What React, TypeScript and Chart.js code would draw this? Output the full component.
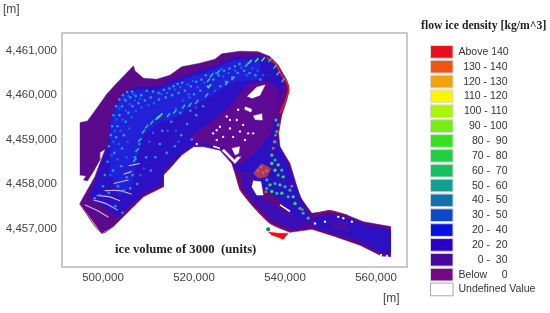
import React, { useEffect, useRef } from "react";
import { Chart, registerables } from "chart.js";

Chart.register(...registerables);

type P = [number, number];
// all map coordinates: easting / northing in km
const boundary: P[] = [[494.9,4459.38],[496.6,4459.42],[498.6,4459.7],[500.8,4460.02],[503,4460.27],[506.7,4460.66],[507,4460.55],[508.9,4460.38],[511.8,4460.36],[514.7,4460.45],[517.3,4460.64],[521.3,4460.72],[524.6,4460.81],[526.1,4460.93],[530.1,4460.99],[534.1,4460.98],[536.7,4460.87],[538.5,4460.68],[540.4,4460.34],[540.8,4460.18],[540.4,4459.89],[539.3,4459.55],[538.6,4459.14],[538.9,4458.84],[541.1,4458.46],[543.3,4457.71],[545.9,4457.34],[549.9,4457.4],[553.6,4457.3],[557.2,4457.15],[563.2,4457.04],[563.2,4456.36],[561.2,4456.38],[556.5,4456.62],[550.6,4456.83],[545.9,4456.98],[541.1,4456.91],[536.7,4457.11],[533,4457.49],[530.1,4457.86],[529,4458.24],[528.3,4458.46],[525.7,4458.76],[522.1,4458.84],[519.9,4458.84],[517.3,4458.65],[514.7,4458.35],[513.3,4458.2],[513.3,4457.94],[508.9,4457.71],[502.3,4457.04],[499.7,4456.89],[494.9,4457.56],[498.2,4458.16],[500.5,4458.79],[499.2,4458.7],[499.3,4458.54],[497.9,4458.28],[496.6,4458.07],[495.7,4458.09],[496.3,4458.18],[494.9,4458.2]];
const blueChannel: P[] = [[501.2,4458.91],[501.5,4459.36],[502.6,4459.74],[504.8,4460.04],[507.4,4460.19],[511.8,4460.18],[515.5,4460.34],[519.1,4460.48],[524.2,4460.64],[528.6,4460.85],[534.5,4460.87],[537.1,4460.79],[538.9,4460.49],[539.6,4460.23],[538.5,4459.89],[537.8,4459.51],[538.2,4458.99],[541.1,4458.31],[543.7,4457.64],[545.9,4457.15],[541.8,4457.26],[538.2,4457.71],[534.5,4457.94],[532.3,4458.24],[529.7,4458.31],[527.9,4458.54],[525.7,4458.8],[520.6,4458.91],[517.7,4458.73],[513.3,4458.31],[512.9,4458.01],[508.9,4457.79],[503,4457.26],[497.1,4457.71],[499.3,4458.39]];
const brightBand: P[] = [[501.5,4458.3],[501.6,4459.3],[502.8,4459.75],[505,4460.05],[507.5,4460.12],[511.8,4460.1],[515.5,4460.27],[519,4460.4],[524,4460.56],[528.5,4460.78],[534.5,4460.8],[534.5,4460.35],[528.5,4460.3],[524,4460],[519,4459.7],[515,4459.45],[512.5,4459.4],[509,4459.1],[507.5,4458.6],[506.5,4458],[503.5,4457.7]];
const islandZone: P[] = [[522.8,4459.33],[527.9,4459.74],[531.6,4460.23],[535.6,4460.34],[538.7,4460.15],[538.2,4459.67],[536.9,4459.14],[534.5,4458.84],[530.8,4458.46],[528.6,4458.46],[525.7,4458.84],[520.6,4458.95],[519.1,4459.06]];
const eastRiver: P[] = [[546.2,4457.23],[549.9,4457.3],[553.6,4457.23],[557.2,4457.08],[563.1,4456.96],[563.1,4456.42],[561.2,4456.47],[556.5,4456.72],[550.6,4456.92],[546.2,4457.05]];
const eastPatch: P[] = [[549.9,4457.19],[553.6,4457.13],[554.3,4456.92],[550.6,4457]];
const lowerRiver: P[] = [[530.5,4458.24],[532.3,4458.16],[535.2,4457.64],[541.1,4457.3],[545.9,4457.11],[541.8,4456.98],[536.7,4457.23],[531.2,4457.86]];
const redBlob: P[] = [[536.3,4456.92],[538.5,4456.89],[540.7,4456.89],[539.6,4456.75],[538.5,4456.8],[537,4456.85]];
const redIsland: P[] = [[533,4458.24],[534.9,4458.46],[536.9,4458.35],[536,4458.16],[534.1,4458.13]];
const holes: P[][] = [
  [[531.7,4459.97],[533.8,4460.18],[535.6,4460.23],[534.5,4460],[532.7,4459.93]],
  [[533,4459.53],[534.9,4459.58],[535,4459.44],[533.4,4459.45]],
  [[531.2,4459.74],[532.7,4459.68],[532.5,4459.62],[531.1,4459.68]],
  [[528.3,4458.8],[530,4458.84],[529.8,4458.69],[529,4458.65]],
  [[526.1,4458.76],[529,4458.46],[530.3,4458.61],[529.5,4458.61],[528.9,4458.54],[526.6,4458.78]],
  [[533,4458.07],[534.7,4458.05],[535.2,4457.75],[533.8,4457.75],[532.7,4457.94]],
];
const redEdgeEast: P[] = [[536,4460.83],[537.8,4460.72],[539.3,4460.45],[540.5,4460.27],[540.8,4460.12],[540.2,4459.89],[538.9,4459.59]];
const redEdgeRiver: P[] = [[529.2,4458.2],[530.3,4457.85],[533.2,4457.47],[536.9,4457.1],[541.1,4456.92]];
const redEdgeSouth: P[] = [[494.9,4457.55],[499.7,4456.9],[502.3,4457.05]];
const redEdgeNorth: P[] = [[547,4457.34],[549.9,4457.4],[553.6,4457.3]];
const paleStreaks: P[][] = [
  [[496,4457.53],[498.6,4457.41],[501.2,4457.25]],
  [[497.9,4457.64],[500.8,4457.55],[503.2,4457.41]],
  [[498.6,4457.74],[501.5,4457.71],[503.7,4457.62]],
  [[500.4,4457.85],[503.7,4457.85],[506.3,4457.77]],
  [[502.3,4458.01],[505.6,4458.09]],
  [[504.5,4458.22],[506.3,4458.28]],
  [[505.6,4458.41],[508.1,4458.46]],
];
const whiteStreaks: P[][] = [
  [[524.2,4458.85],[525.7,4458.8]],
  [[538.9,4457.53],[541.1,4457.38]],
];
const blueDots: P[] = [[501.6,4458.2],[501.9,4458.65],[502.3,4458.95],[502.6,4459.2],[503,4459.45],[503.6,4459.7],[504.7,4459.9],[505.6,4459.98],[506.7,4460.02],[503.2,4458.55],[503.5,4458.9],[503.9,4459.2],[504.3,4459.45],[505,4459.65],[505.9,4459.8],[507,4459.88],[508.2,4459.92],[505.2,4458.6],[505.4,4458.95],[505.8,4459.25],[506.3,4459.5],[507.2,4459.65],[508.5,4459.72],[510,4459.78],[511.2,4459.82],[512.8,4460.02],[514.1,4460.05],[515.8,4460.12],[517,4460.18],[518.6,4460.24],[519.8,4460.32],[518.8,4460.02],[520.8,4460.18],[522.3,4460.28],[523.6,4460.42],[524.8,4460.5],[526,4460.58],[524.6,4460.1],[526.4,4460.42],[527.6,4460.5],[529,4460.55],[530.4,4460.62],[531.6,4460.45],[532.8,4460.6],[534,4460.55],[535.2,4460.45],[516,4459.7],[517.6,4459.88],[519,4459.95],[520.4,4459.72],[514.2,4459.2],[516,4459.2],[510.2,4458.95],[511,4459.15],[509,4458.35],[508.2,4458.2],[516.6,4458.95]];
const cyanDots: P[] = [[500.4,4458.2],[501,4458.5],[501.3,4458.85],[501.7,4459.1],[502,4459.3],[502.3,4459.55],[502.9,4459.75],[503.6,4459.9],[504.4,4460],[505.3,4460.07],[506.4,4460.08],[502.2,4458.3],[502.5,4458.7],[502.9,4459.05],[503.2,4459.3],[503.6,4459.55],[504.2,4459.75],[505,4459.88],[506,4459.95],[507.2,4459.98],[508.4,4460],[504,4458.4],[504.2,4458.8],[504.6,4459.1],[505,4459.4],[505.6,4459.6],[506.5,4459.75],[507.8,4459.82],[509.2,4459.88],[510.5,4459.95],[509.6,4460.1],[511,4460.08],[512.2,4460.05],[513.4,4460.12],[514.6,4460.15],[515.5,4460.2],[516.4,4460.25],[517.4,4460.28],[512.3,4459.9],[513.8,4459.95],[515.2,4460],[516.6,4460.05],[518,4460.1],[519.3,4460.2],[520.5,4460.3],[521.6,4460.35],[522.6,4460.45],[520,4460.02],[521.4,4460.1],[523,4460.2],[524.3,4460.35],[525.4,4460.45],[526.6,4460.55],[527.8,4460.6],[529,4460.65],[530,4460.7],[525.8,4460.2],[527,4460.3],[528.4,4460.4],[529.6,4460.5],[531,4460.55],[532.2,4460.5],[533.5,4460.45],[534.6,4460.35],[506.5,4458.2],[507,4458.6],[508,4458.9],[509.5,4458.6],[510.5,4458.3],[511.5,4458.6],[512.5,4458.9],[514,4458.7],[515.8,4458.85],[517.2,4459.1],[518.5,4459.35],[519.5,4459],[513,4459.2],[515,4459.4],[517,4459.6],[505.2,4458.15],[506,4457.9],[507.5,4458],[503.3,4457.95],[504.6,4457.85],[502.7,4457.5],[504.3,4457.35],[501.3,4457.8],[500,4457.95],[499.3,4457.75],[498.2,4457.68],[520.5,4459.55],[522,4459.75],[519.2,4459.65]];
const tealStreakDots: P[] = [[507,4458.54],[507.5,4458.76],[508.1,4458.99],[508.9,4459.18],[509.6,4459.29],[510.7,4459.38],[511.8,4459.48],[514.4,4459.55],[515.8,4459.63],[517.7,4459.74],[519.1,4459.78],[520.6,4459.85],[522.8,4460],[523.2,4460.34],[523.9,4460.45],[525.3,4460.52],[527.2,4460.27],[528.6,4460.38],[531.6,4460.68],[536.7,4460.79],[537.8,4460.64],[538.5,4460.49],[539.6,4460.34]];
const greenStreakDots: P[] = [[512.7,4459.55],[512.2,4459.5],[532.3,4460.75],[533.8,4460.79],[535.2,4460.81],[523.4,4460.2]];
const islandGreen: P[] = [[537.1,4458.65],[538.5,4458.43],[537.1,4458.46],[537.8,4458.31],[539.6,4458.16],[536.7,4457.98],[538.9,4457.98],[537.1,4457.83],[539.3,4457.79],[541.8,4457.71],[542.2,4457.56]];
const islandTeal: P[] = [[537.8,4458.54],[539.3,4458.31],[538.5,4458.2],[536,4458.09],[537.8,4458.01],[540,4457.94],[536,4457.9],[538.2,4457.79],[541.1,4457.86],[540.7,4457.71],[543.3,4457.45],[544,4457.34],[545.1,4457.23],[537.8,4458.95],[538.2,4459.18],[538.5,4459.33],[538,4459.44]];
const islandRedDots: P[] = [[537.4,4458.8],[537.6,4458.95],[537.9,4459.1],[534,4458.3],[535.2,4458.25],[536,4458.3],[534.7,4458.38],[535.8,4457.82],[541.5,4457.95],[543.8,4457.42]];
const whiteSpecks: P[] = [[525,4459.21],[527.2,4459.52],[529.4,4459.44],[530.8,4459.33],[525.7,4459.29],[527.9,4459.25],[530.1,4459.18],[531.9,4459.14],[524.2,4459.14],[526.4,4459.06],[528.6,4459.06],[531.2,4458.99],[525,4458.99],[533,4459.14],[529.7,4459.67],[527.9,4459.44],[520.6,4458.9],[551.7,4457.26],[552.8,4457.23],[554.7,4457.15],[548.8,4457.15],[546.6,4457.11],[561.1,4456.4],[562.4,4456.38]];
const tealSpot: P[] = [[536.3,4456.98]];

const xTicksStep = 20;
const yTicksStep = 1;
const legendLabels = ["Above 140","130 - 140","120 - 130","110 - 120","100 - 110","90 - 100","80 -  90","70 -  80","60 -  70","50 -  60","40 -  50","30 -  50","20 -  40","20 -  20","0 -  30","Below","Undefined Value"];
const legendColors = ["#e8101c","#f0560f","#f5a00f","#fbf500","#a8f50a","#78ee10","#38e020","#20d040","#14c062","#12a090","#1070b0","#0d48c8","#0a10e0","#2a00c8","#46089a","#720a84","#ffffff"];
const chartTitle = "flow ice density [kg/m^3]";
const caption = "ice volume of 3000  (units)";
const unit = "[m]";

const sans = '"Liberation Sans", Arial, sans-serif';
const serif = '"Liberation Serif", "Times New Roman", serif';

const toXY = (a: P[]) => a.map(([x, y]) => ({ x, y }));

const polygon = (data: P[], color: string) => ({
  data: toXY(data), showLine: true, fill: "shape", tension: 0,
  backgroundColor: color, borderColor: color, borderWidth: 0.5, pointRadius: 0,
});
const edge = (data: P[], color: string, w: number) => ({
  data: toXY(data), showLine: true, fill: false, tension: 0.3,
  borderColor: color, borderWidth: w, pointRadius: 0,
});
const dots = (data: P[], color: string, r: number) => ({
  data: toXY(data), showLine: false, backgroundColor: color, borderColor: color,
  pointRadius: r, pointBorderWidth: 0,
});
const streakDots = (data: P[], color: string, r: number) => ({
  data: toXY(data), showLine: false, backgroundColor: color, borderColor: color,
  pointRadius: r, pointStyle: "line", pointRotation: -50, pointBorderWidth: 1.6,
});

const overlay = {
  id: "overlay",
  afterDraw(chart: any) {
    const { ctx, chartArea: a } = chart;
    ctx.save();
    ctx.strokeStyle = "#b8b8b8";
    ctx.lineWidth = 1.5;
    ctx.strokeRect(a.left, a.top, a.right - a.left, a.bottom - a.top);
    ctx.textBaseline = "middle";
    ctx.fillStyle = "#444";
    ctx.font = `12px ${sans}`;
    ctx.textAlign = "left";
    ctx.fillText(unit, 3, 10);
    ctx.fillText(unit, 383, 299);
    ctx.fillStyle = "#222";
    ctx.font = `bold 12.7px ${serif}`;
    ctx.fillText(caption, 115, 250);
    ctx.font = `bold 11.7px ${serif}`;
    ctx.fillText(chartTitle, 421, 26);
    ctx.font = `10.5px ${sans}`;
    legendLabels.forEach((label, i) => {
      const y = 45.5 + i * 14.85;
      ctx.fillStyle = legendColors[i];
      ctx.fillRect(430.5, y, 22.5, 12.7);
      ctx.strokeStyle = i === 16 ? "#aaa" : "#d8d8d8";
      ctx.lineWidth = 1;
      ctx.strokeRect(430.5, y, 22.5, 12.7);
      ctx.fillStyle = "#333";
      const left = i === 0 || i >= 15;
      ctx.textAlign = left ? "left" : "right";
      ctx.fillText(label, left ? 458.5 : 507.5, y + 6.5);
      if (label === "Below") {
        ctx.textAlign = "right";
        ctx.fillText("0", 507.5, y + 6.5);
      }
    });
    ctx.restore();
  },
};

export default function App() {
  const ref = useRef<HTMLCanvasElement>(null);
  useEffect(() => {
    const layers: any[] = [
      polygon(boundary, "#5c0a8c"),
      polygon(blueChannel, "#2c10c4"),
      polygon(brightBand, "#2220d8"),
      polygon(lowerRiver, "#3c0eb8"),
      polygon(eastRiver, "#2c10c4"),
      polygon(eastPatch, "#4c0cac"),
      polygon(islandZone, "#5e0a94"),
      polygon(redIsland, "#a83a60"),
      polygon(redBlob, "#ee1010"),
      ...holes.map((h) => polygon(h, "#ffffff")),
      edge(redEdgeSouth, "#a01060", 1),
      edge(redEdgeRiver, "#b01050", 1),
      edge(redEdgeNorth, "#a01060", 1),
      edge(redEdgeEast, "#ee1818", 1.8),
      ...paleStreaks.map((s) => edge(s, "#c8b0e0", 1.1)),
      ...whiteStreaks.map((s) => edge(s, "#ffffff", 1.6)),
      dots(blueDots, "#1460e8", 1.3),
      dots(cyanDots, "#1c98e8", 1.3),
      streakDots(tealStreakDots, "#20b8c8", 2.4),
      streakDots(greenStreakDots, "#40e080", 2.6),
      dots(islandGreen, "#30d868", 1.7),
      dots(islandTeal, "#28b0a0", 1.6),
      dots(islandRedDots, "#d06040", 1.4),
      dots(whiteSpecks, "#f4ecfa", 1.2),
      dots(tealSpot, "#107a90", 2),
    ];
    layers.forEach((l, i) => (l.order = layers.length - i));
    const chart = new Chart(ref.current!, {
      type: "scatter",
      data: { datasets: layers },
      options: {
        animation: false,
        responsive: false,
        devicePixelRatio: 1,
        layout: { padding: { top: 33, right: 143, left: 0, bottom: 0 } },
        plugins: { legend: { display: false }, tooltip: { enabled: false }, title: { display: false } },
        scales: {
          x: {
            type: "linear", min: 490.99, max: 566.81,
            grid: { display: false, drawTicks: false }, border: { display: false },
            afterFit: (s: any) => { s.height = 46; },
            ticks: {
              stepSize: xTicksStep, includeBounds: false, maxRotation: 0, autoSkip: false, padding: 4,
              color: "#444", font: { family: sans, size: 11.5 },
              callback: (v: any) => (v * 1000).toLocaleString("en-US"),
            },
          },
          y: {
            type: "linear", min: 4456.13, max: 4461.4,
            grid: { display: false, drawTicks: false }, border: { display: false },
            afterFit: (s: any) => { s.width = 62; },
            ticks: {
              stepSize: yTicksStep, includeBounds: false, autoSkip: false, padding: 5,
              color: "#444", font: { family: sans, size: 11.5 },
              callback: (v: any) => (v * 1000).toLocaleString("en-US"),
            },
          },
        },
      } as any,
      plugins: [overlay],
    });
    return () => chart.destroy();
  }, []);
  return (
    <canvas
      ref={ref}
      width={550}
      height={313}
      style={{ position: "fixed", left: 0, top: 0, width: 550, height: 313, display: "block" }}
    />
  );
}
